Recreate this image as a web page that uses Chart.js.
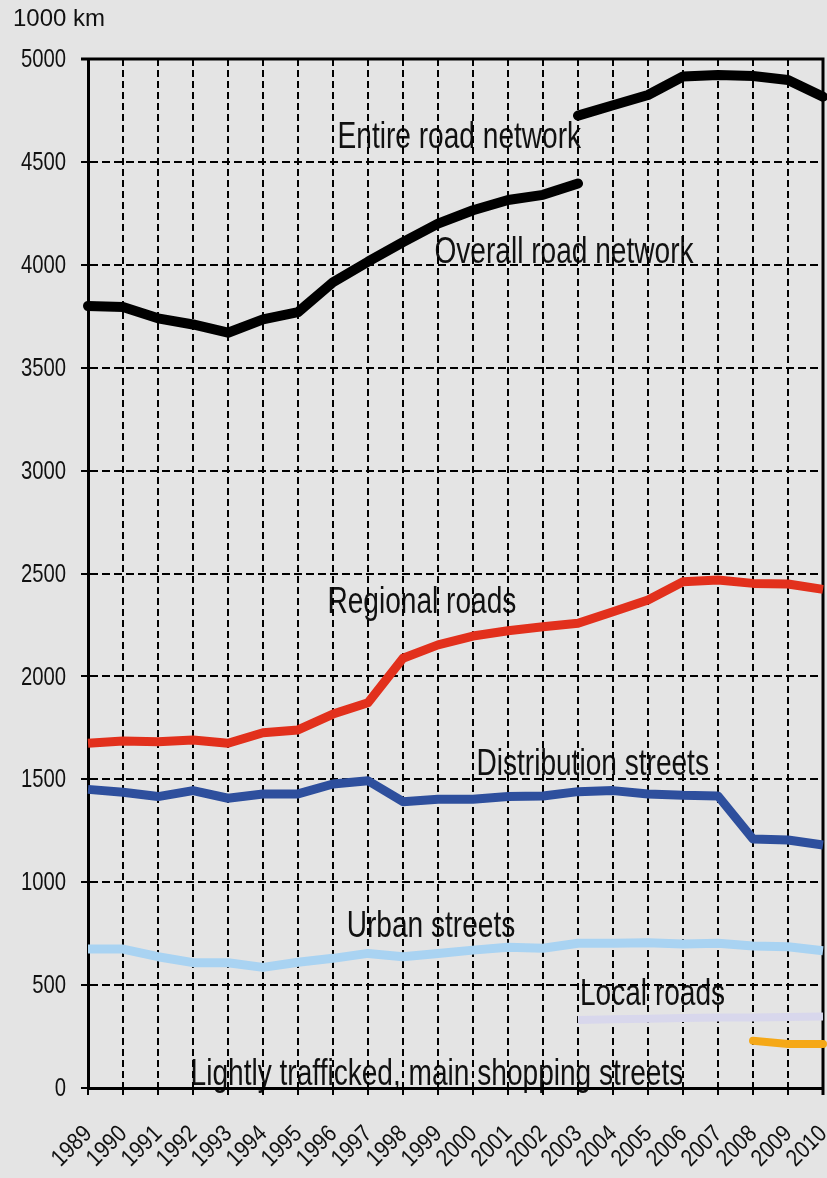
<!DOCTYPE html>
<html>
<head>
<meta charset="utf-8">
<script src="https://cdn.jsdelivr.net/npm/chart.js@4.4.1/dist/chart.umd.min.js"></script>
<style>
  html, body { margin: 0; padding: 0; background: #e4e4e4; }
  canvas { display: block; }
</style>
</head>
<body>
<canvas id="chartCanvas" width="827" height="1178"></canvas>
<script>
// Años del eje X
const years = ['1989', '1990', '1991', '1992', '1993', '1994', '1995', '1996', '1997', '1998', '1999',
               '2000', '2001', '2002', '2003', '2004', '2005', '2006', '2007', '2008', '2009', '2010'];

// Valores en 1000 km
const overallRoad = [3800, 3795, 3740, 3710, 3670, 3735, 3770, 3915, 4015, 4110, 4200, 4265, 4315, 4340, 4395,
                     null, null, null, null, null, null, null];
const entireRoad = [null, null, null, null, null, null, null, null, null, null, null, null, null, null,
                    4725, 4775, 4825, 4915, 4922, 4917, 4898, 4817];
const regional = [1675, 1686, 1683, 1691, 1675, 1726, 1740, 1817, 1872, 2088, 2153, 2196, 2222, 2241, 2258,
                  2314, 2371, 2460, 2468, 2452, 2449, 2423];
const distribution = [1451, 1437, 1416, 1445, 1408, 1429, 1429, 1477, 1493, 1391, 1403, 1403, 1416, 1419, 1440,
                      1445, 1429, 1422, 1419, 1210, 1205, 1181];
const urban = [675, 675, 638, 609, 609, 586, 611, 630, 654, 638, 654, 670, 684, 679, 703,
               703, 706, 700, 703, 690, 686, 667];
const localRoads = [null, null, null, null, null, null, null, null, null, null, null, null, null, null,
                    330, 334, 337, 340, 343, 343, 345, 347];
const lightlyTrafficked = [null, null, null, null, null, null, null, null, null, null, null, null, null, null,
                           null, null, null, null, null, 230, 214, 214];

// Escala Y
const yMin = 0;
const yMax = 5000;
const yStep = 500;

// Etiquetas dentro del gráfico (posición en índice de año / valor)
const seriesLabels = [
    { text: 'Entire road network', x: 10.61, y: 4566 },
    { text: 'Overall road network', x: 13.6, y: 4007 },
    { text: 'Regional roads', x: 9.54, y: 2308 },
    { text: 'Distribution streets', x: 14.42, y: 1521 },
    { text: 'Urban streets', x: 9.8, y: 735 },
    { text: 'Local roads', x: 16.13, y: 403 },
    { text: 'Lightly trafficked, main shopping streets', x: 9.97, y: 15 }
];

const baseFont = '"Liberation Sans", Arial, sans-serif';

// Texto estrechado (no hay fuente "narrow" instalada)
function narrowText(ctx, text, x, y, sx, angle) {
    ctx.save();
    ctx.translate(x, y);
    if (angle) ctx.rotate(angle);
    ctx.scale(sx, 1);
    ctx.fillText(text, 0, 0);
    ctx.restore();
}

// Plugin: textos de las series, ticks y unidad (debajo de la rejilla)
const textPlugin = {
    id: 'textPlugin',
    beforeDraw(chart) {
        const ctx = chart.ctx;
        const xs = chart.scales.x;
        const ys = chart.scales.y;
        ctx.save();
        ctx.fillStyle = '#111';

        // unidad
        ctx.font = '24px ' + baseFont;
        ctx.textAlign = 'left';
        ctx.textBaseline = 'alphabetic';
        ctx.fillText('1000 km', 13, 26);

        // etiquetas eje Y
        ctx.font = '26px ' + baseFont;
        ctx.textAlign = 'right';
        ctx.textBaseline = 'middle';
        ys.ticks.forEach(t => {
            narrowText(ctx, String(t.value), xs.left - 22, ys.getPixelForValue(t.value) + 1, 0.78, 0);
        });

        // etiquetas eje X (giradas 45°)
        ctx.font = '24px ' + baseFont;
        ctx.textAlign = 'right';
        ctx.textBaseline = 'alphabetic';
        xs.ticks.forEach(t => {
            narrowText(ctx, years[t.value], xs.getPixelForValue(t.value) + 5, ys.bottom + 47, 0.86, -Math.PI / 4);
        });

        // nombres de las series
        ctx.font = '36px ' + baseFont;
        ctx.textAlign = 'center';
        seriesLabels.forEach(l => {
            narrowText(ctx, l.text, xs.getPixelForValue(l.x), ys.getPixelForValue(l.y), 0.78, 0);
        });
        ctx.restore();
    }
};

// Plugin: marco superior y derecho sólido
const framePlugin = {
    id: 'framePlugin',
    beforeDatasetsDraw(chart) {
        const ctx = chart.ctx;
        const a = chart.chartArea;
        ctx.save();
        ctx.strokeStyle = '#000';
        ctx.lineWidth = 3;
        ctx.beginPath();
        ctx.moveTo(a.left - 7, a.top);
        ctx.lineTo(a.right, a.top);
        ctx.lineTo(a.right, a.bottom + 7);
        ctx.stroke();
        ctx.restore();
    }
};

function makeLine(label, data, color, width, cap) {
    return {
        label: label,
        data: data,
        borderColor: color,
        backgroundColor: color,
        borderWidth: width,
        borderCapStyle: cap,
        borderJoinStyle: 'round',
        pointRadius: 0,
        pointHoverRadius: 0,
        tension: 0,
        fill: false,
        spanGaps: false
    };
}

const ctx = document.getElementById('chartCanvas').getContext('2d');

const chart = new Chart(ctx, {
    type: 'line',
    data: {
        labels: years,
        datasets: [
            makeLine('Lightly trafficked, main shopping streets', lightlyTrafficked, '#f5a817', 8, 'round'),
            makeLine('Local roads', localRoads, '#d8d7ec', 8, 'butt'),
            makeLine('Urban streets', urban, '#a9d3f2', 9, 'butt'),
            makeLine('Distribution streets', distribution, '#2e4f9d', 9, 'butt'),
            makeLine('Regional roads', regional, '#e2301c', 9, 'butt'),
            makeLine('Overall road network', overallRoad, '#000000', 10, 'round'),
            makeLine('Entire road network', entireRoad, '#000000', 10, 'round')
        ]
    },
    options: {
        responsive: false,
        animation: false,
        events: [],
        layout: { padding: { top: 59, right: 4, left: 0, bottom: 0 } },
        plugins: {
            legend: { display: false },
            tooltip: { enabled: false }
        },
        scales: {
            x: {
                offset: false,
                grid: {
                    color: '#000',
                    lineWidth: 2,
                    tickLength: 7,
                    tickBorderDash: [],
                    drawTicks: true
                },
                border: { display: true, color: '#000', width: 3, dash: [7, 4] },
                ticks: { display: false, autoSkip: false },
                afterFit(scale) { scale.height = 90; }
            },
            y: {
                min: yMin,
                max: yMax,
                grid: {
                    color: '#000',
                    lineWidth: 2,
                    tickLength: 7,
                    tickBorderDash: []
                },
                border: { display: true, color: '#000', width: 3, dash: [8, 4] },
                ticks: { display: false, stepSize: yStep },
                afterFit(scale) { scale.width = 88; }
            }
        }
    },
    plugins: [textPlugin, framePlugin]
});
</script>
</body>
</html>
